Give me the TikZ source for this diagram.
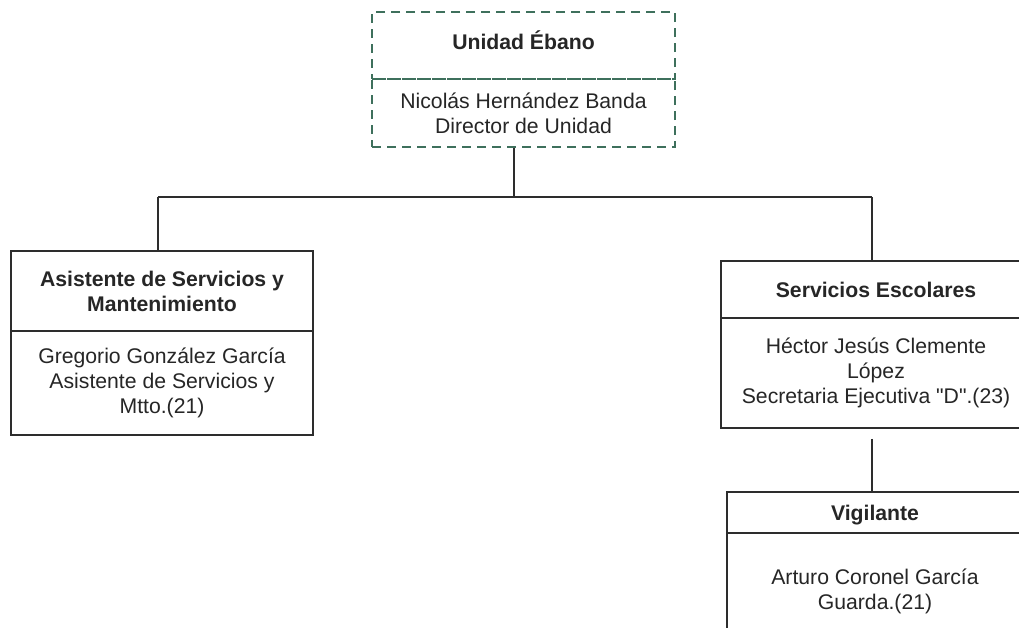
\documentclass[tikz,border=0pt]{standalone}
\usepackage{fontspec}
\setmainfont{Liberation Sans}[Ligatures=TeXOff]
\definecolor{dashgreen}{RGB}{62,112,92}
\definecolor{boxline}{RGB}{45,45,45}
\begin{document}
\begin{tikzpicture}[x=1pt,y=-1pt,
  every node/.style={font=\fontsize{21.2pt}{25pt}\selectfont, text=black!85, align=center, inner sep=0pt},
  orgbox/.style={draw=boxline, line width=1.8pt, rectangle},
  dashbox/.style={draw=dashgreen, line width=1.6pt, dash pattern=on 9pt off 6pt, rectangle},
  link/.style={draw=boxline, line width=1.8pt}
]
\useasboundingbox (0,0) rectangle (1019,627);
\fill[white] (0,0) rectangle (1019,627);

% top dashed box
\node[dashbox, minimum width=303pt, minimum height=67pt, text depth=10pt] (ut) at (523.5,45.5) {\textbf{Unidad Ébano}};
\node[dashbox, minimum width=303pt, minimum height=68pt] (ub) at (523.5,113) {Nicolás Hernández Banda\\Director de Unidad};

% left box
\node[orgbox, minimum width=302pt, minimum height=80pt] (at) at (162,291) {\textbf{Asistente de Servicios y}\\\textbf{Mantenimiento}};
\node[orgbox, minimum width=302pt, minimum height=104pt] (ab) at (162,383) {Gregorio González García\\Asistente de Servicios y\\Mtto.(21)};

% right box
\node[orgbox, minimum width=310pt, minimum height=57pt] (st) at (876,289.5) {\textbf{Servicios Escolares}};
\node[orgbox, minimum width=310pt, minimum height=110pt] (sb) at (876,373) {Héctor Jesús Clemente\\López\\Secretaria Ejecutiva "D".(23)};

% vigilante box
\node[orgbox, minimum width=296pt, minimum height=41pt, text height=21pt] (vt) at (875,512.5) {\textbf{Vigilante}};
\node[orgbox, minimum width=296pt, minimum height=117pt] (vb) at (875,591.5) {Arturo Coronel García\\Guarda.(21)};

% connectors
\coordinate (j) at (514,197);
\coordinate (jl) at (158,197);
\coordinate (jr) at (872,197);
\draw[link] (j |- ub.south) -- (j);
\draw[link] (jl) -- (jr);
\draw[link] (jl) -- (jl |- at.north);
\draw[link] (jr) -- (jr |- st.north);
\draw[link, shorten <=10pt] (jr |- sb.south) -- (jr |- vt.north);
\end{tikzpicture}
\end{document}
